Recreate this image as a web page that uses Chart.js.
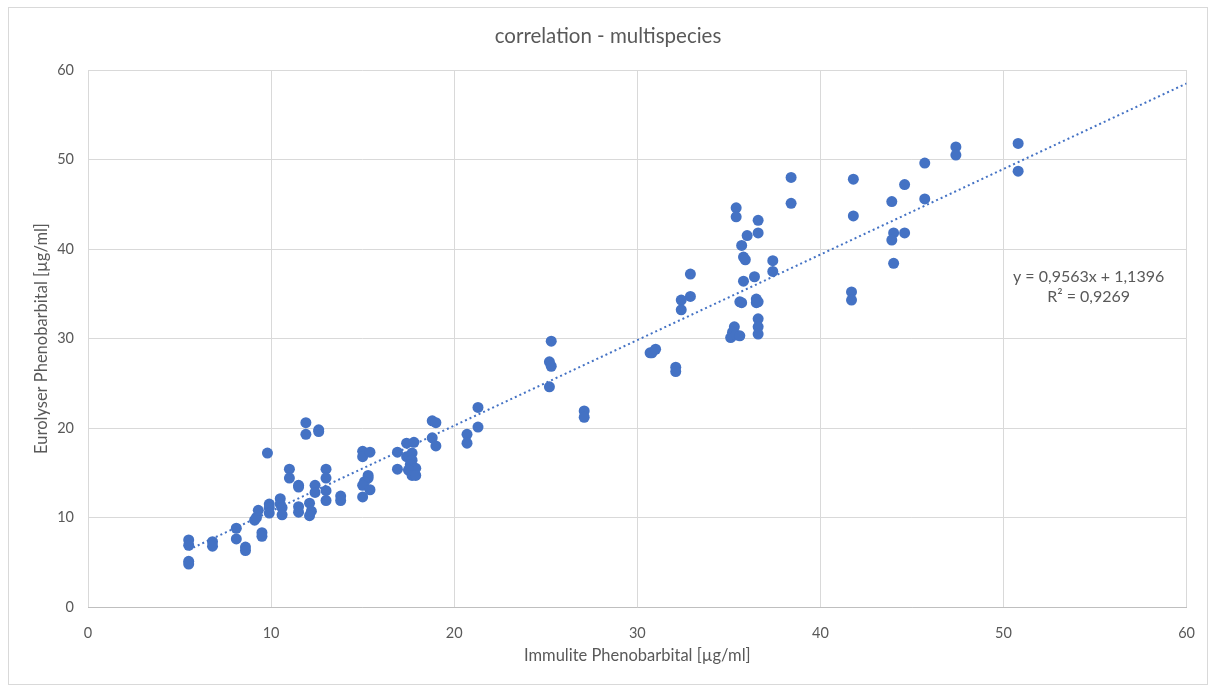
<!DOCTYPE html>
<html>
<head>
<meta charset="utf-8">
<script src="https://cdn.jsdelivr.net/npm/chart.js@4"></script>
<style>
  body { margin: 0; background: #fff; }
  #frame { position: absolute; left: 8px; top: 7px; width: 1198px; height: 676px; border: 1px solid #d9d9d9; }
  #wrap { position: absolute; left: 0; top: 0; width: 1213px; height: 687px; }
</style>
</head>
<body>
<div id="frame"></div>
<div id="wrap"><canvas id="chart" width="1213" height="687"></canvas></div>
<script>
// Immulite (x) vs Eurolyser (y), µg/ml
const immulite = [
  5.5, 5.5, 5.5, 5.5, 6.8, 6.8, 8.1, 8.1, 8.6, 8.6,
  9.1, 9.2, 9.3, 9.5, 9.5, 9.8, 9.9, 9.9, 9.9, 10.5,
  10.5, 10.6, 10.6, 11.0, 11.0, 11.5, 11.5, 11.5, 11.5, 11.9,
  11.9, 12.6, 12.6, 12.1, 12.2, 12.1, 12.4, 12.4, 13.0, 13.0,
  13.0, 13.0, 13.8, 13.8, 15.0, 15.0, 15.4, 15.3, 15.3, 15.1,
  15.0, 15.4, 15.0, 16.9, 16.9, 17.4, 17.8, 17.4, 17.7, 17.7,
  17.6, 17.9, 17.5, 17.7, 17.9, 18.8, 19.0, 18.8, 19.0, 20.7,
  20.7, 21.3, 21.3, 25.3, 25.2, 25.3, 25.2, 27.1, 27.1, 30.7,
  30.8, 31.0, 32.1, 32.1, 32.9, 32.9, 32.4, 32.4, 35.4, 35.4,
  36.6, 36.6, 36.0, 35.7, 35.8, 35.9, 37.4, 37.4, 35.8, 36.4,
  35.6, 35.7, 36.5, 36.6, 36.5, 36.6, 36.6, 36.6, 35.3, 35.2,
  35.1, 35.4, 35.6, 38.4, 38.4, 41.8, 41.8, 41.7, 41.7, 43.9,
  44.6, 45.7, 45.7, 47.4, 47.4, 50.8, 50.8, 44.0, 43.9, 44.6,
  44.0
];
const eurolyser = [
  4.8, 5.1, 7.5, 6.9, 7.3, 6.8, 8.8, 7.6, 6.7, 6.3,
  9.7, 10.0, 10.8, 8.3, 7.9, 17.2, 11.5, 11.1, 10.5, 12.1,
  11.5, 11.1, 10.3, 15.4, 14.4, 13.6, 13.4, 11.2, 10.6, 20.6,
  19.3, 19.8, 19.6, 11.6, 10.7, 10.2, 13.6, 12.8, 15.4, 14.4,
  13.0, 11.9, 12.4, 11.9, 17.4, 16.8, 17.3, 14.7, 14.4, 14.0,
  13.6, 13.1, 12.3, 17.3, 15.4, 18.3, 18.4, 16.8, 17.2, 16.4,
  15.9, 15.5, 15.3, 14.7, 14.7, 20.8, 20.6, 18.9, 18.0, 19.3,
  18.3, 22.3, 20.1, 29.7, 27.4, 26.9, 24.6, 21.9, 21.2, 28.4,
  28.4, 28.8, 26.8, 26.3, 37.2, 34.7, 34.3, 33.2, 44.6, 43.6,
  43.2, 41.8, 41.5, 40.4, 39.1, 38.8, 38.7, 37.5, 36.4, 36.9,
  34.1, 34.0, 34.4, 34.1, 34.0, 32.2, 31.3, 30.5, 31.3, 30.7,
  30.1, 30.4, 30.3, 48.0, 45.1, 47.8, 43.7, 35.2, 34.3, 45.3,
  47.2, 49.6, 45.6, 51.4, 50.5, 51.8, 48.7, 41.8, 41.0, 41.8,
  38.4
];

// dotted linear trendline, ends
const trendX = [5.5, 60];
const trendY = [6.4, 58.5];

const equationLines = ['y = 0,9563x + 1,1396', 'R² = 0,9269'];
const equationAt = { x: 54.65, y: [36.9, 34.65] };

const axisTicks = [0, 10, 20, 30, 40, 50, 60];

const textColor = '#595959';
const blue = '#4472C4';
const fontFam = 'Lato, "Open Sans", sans-serif';

const equationPlugin = {
    id: 'equation',
    afterDatasetsDraw(chart) {
        const ctx = chart.ctx;
        const xs = chart.scales.x, ys = chart.scales.y;
        ctx.save();
        ctx.fillStyle = textColor;
        ctx.font = '16px ' + fontFam;
        ctx.textAlign = 'center';
        ctx.textBaseline = 'middle';
        equationLines.forEach((t, i) => {
            ctx.fillText(t, xs.getPixelForValue(equationAt.x), ys.getPixelForValue(equationAt.y[i]));
        });
        ctx.restore();
    }
};

const ctx = document.getElementById('chart').getContext('2d');
new Chart(ctx, {
    type: 'scatter',
    data: {
        datasets: [
            {
                label: 'points',
                data: immulite.map((v, i) => ({ x: v, y: eurolyser[i] })),
                backgroundColor: blue,
                borderWidth: 0,
                pointRadius: 5.5,
                pointHoverRadius: 5.5,
                order: 1
            },
            {
                label: 'trend',
                data: trendX.map((v, i) => ({ x: v, y: trendY[i] })),
                showLine: true,
                borderColor: blue,
                borderWidth: 2,
                borderDash: [2, 3],
                pointRadius: 0,
                order: 2
            }
        ]
    },
    options: {
        responsive: false,
        animation: false,
        devicePixelRatio: 1,
        layout: { padding: { left: 28, right: 25, top: 14, bottom: 17 } },
        plugins: {
            legend: { display: false },
            tooltip: { enabled: false },
            title: {
                display: true,
                text: 'correlation - multispecies',
                color: textColor,
                font: { family: fontFam, size: 20.5, weight: 'normal', lineHeight: 1.2 },
                padding: { top: 10, bottom: 21.4 }
            }
        },
        scales: {
            x: {
                type: 'linear',
                min: 0,
                max: 60,
                afterBuildTicks: s => { s.ticks = axisTicks.map(v => ({ value: v })); },
                afterFit: s => { s.height = 63; },
                grid: { color: '#d9d9d9', drawTicks: false },
                border: { color: '#bfbfbf' },
                ticks: { color: textColor, padding: 18, font: { family: fontFam, size: 14.5 } },
                title: {
                    display: true,
                    text: 'Immulite Phenobarbital [µg/ml]',
                    color: textColor,
                    font: { family: fontFam, size: 16.5, lineHeight: 1.2 }
                }
            },
            y: {
                type: 'linear',
                min: 0,
                max: 60,
                afterBuildTicks: s => { s.ticks = axisTicks.map(v => ({ value: v })); },
                afterFit: s => { s.width = 60; },
                grid: { color: '#d9d9d9', drawTicks: false },
                border: { display: false },
                ticks: { color: textColor, padding: 14, font: { family: fontFam, size: 14.5 } },
                title: {
                    display: true,
                    text: 'Eurolyser Phenobarbital [µg/ml]',
                    color: textColor,
                    font: { family: fontFam, size: 16.5, lineHeight: 1.2 }
                }
            }
        }
    },
    plugins: [equationPlugin]
});
</script>
</body>
</html>
